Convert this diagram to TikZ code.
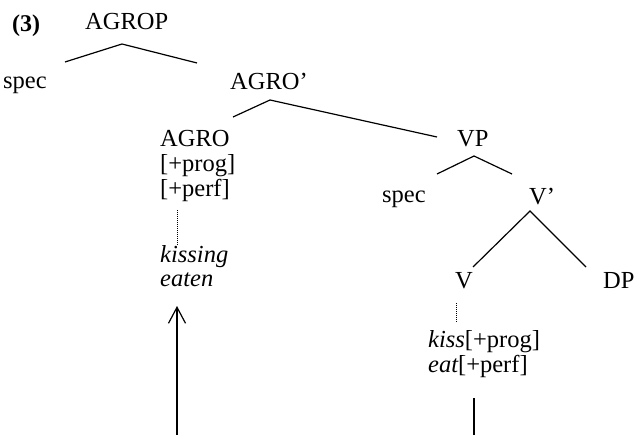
\documentclass[tikz,border=0pt]{standalone}
\usepackage{fontspec}
\setmainfont{Liberation Serif}
\usetikzlibrary{arrows.meta}
\begin{document}
\begin{tikzpicture}[x=1pt,y=-1pt,
  lbl/.style={inner sep=0pt,anchor=base west,font=\fontsize{24.5}{28}\selectfont},
  branch/.style={line width=1.2pt},
  trace/.style={line width=0.6pt,dash pattern=on 1pt off 1pt},
  move/.style={line width=1.2pt}]
\useasboundingbox (0,0) rectangle (636,435);
% labels
\node[lbl,font=\fontsize{24}{28}\selectfont\bfseries] (num) at (12,32) {(3)};
\node[lbl] (agrop) at (85,30) {AGROP};
\node[lbl] (spec1) at (3,89) {spec};
\node[lbl] (agrobar) at (230,90) {AGRO’};
\node[lbl] (agro) at (160,147) {AGRO};
\node[lbl] (prog) at (160,172) {[+prog]};
\node[lbl] (perf) at (160,197) {[+perf]};
\node[lbl] (kissing) at (160,262) {\itshape kissing};
\node[lbl] (eaten) at (160,287) {\itshape eaten};
\node[lbl] (vp) at (457,147) {VP};
\node[lbl] (spec2) at (382,203) {spec};
\node[lbl] (vbar) at (529,205) {V’};
\node[lbl] (v) at (455,288) {V};
\node[lbl] (dp) at (603,288) {DP};
\node[lbl] (kiss) at (428,347) {\itshape kiss\upshape[+prog]};
\node[lbl] (eat) at (428,372) {\itshape eat\upshape[+perf]};
% branch points
\coordinate (t1) at (122,44);
\coordinate (t1l) at (65,62);
\coordinate (t1r) at (197,63);
\coordinate (t2) at (270,100);
\coordinate (t2l) at (233,117);
\coordinate (t2r) at (437,137);
\coordinate (t3) at (474,156);
\coordinate (t3l) at (437,174);
\coordinate (t3r) at (512,174);
\coordinate (t4) at (530,211);
\coordinate (t4l) at (473,267);
\coordinate (t4r) at (586,267);
\draw[branch] (t1l) -- (t1) -- (t1r);
\draw[branch] (t2l) -- (t2) -- (t2r);
\draw[branch] (t3l) -- (t3) -- (t3r);
\draw[branch] (t4l) -- (t4) -- (t4r);
% dotted links to the spelled-out forms
\coordinate (d1a) at (177,210);
\coordinate (d1b) at (177,245);
\coordinate (d2a) at (456,303);
\coordinate (d2b) at (456,322);
\draw[trace] (d1a) -- (d1b);
\draw[trace] (d2a) -- (d2b);
% movement lines
\coordinate (m1a) at (177,435);
\coordinate (m1b) at (177,306);
\coordinate (m2a) at (474,435);
\coordinate (m2b) at (474,398);
\draw[move,-{Straight Barb[length=16pt,width=17pt,line width=1.2pt]}] (m1a) -- (m1b);
\draw[move] (m2a) -- (m2b);
\end{tikzpicture}
\end{document}
